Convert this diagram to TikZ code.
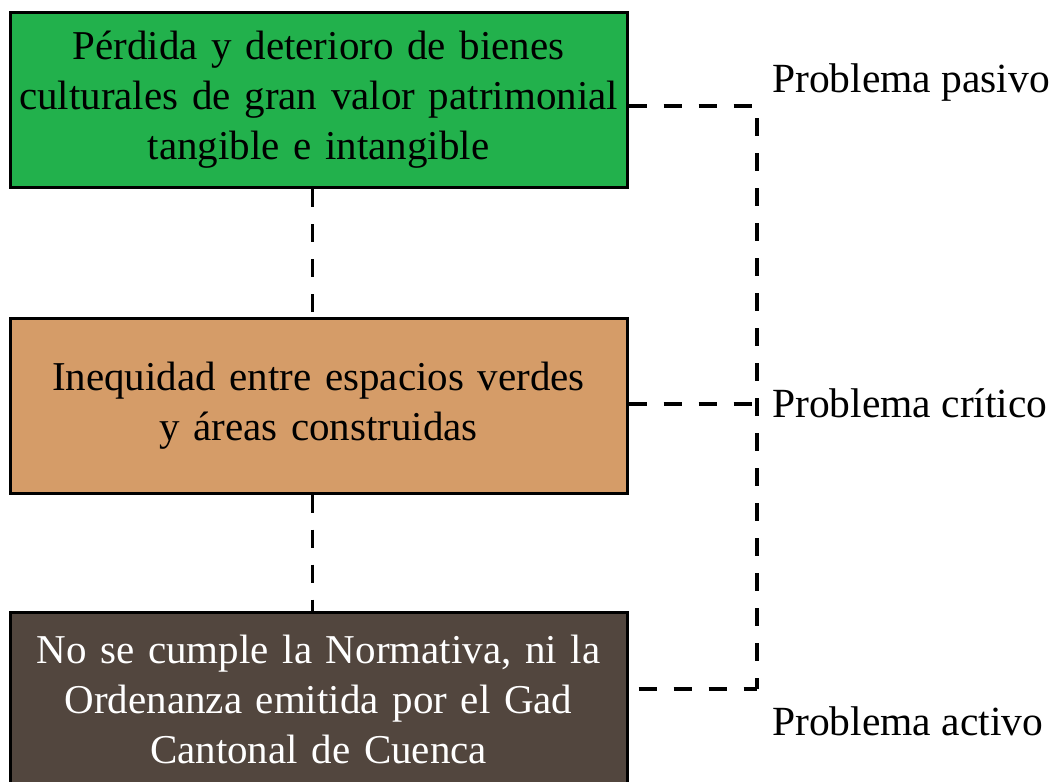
\documentclass[tikz,border=0pt]{standalone}
\usepackage{fontspec}
\setmainfont{Liberation Serif}
\definecolor{boxgreen}{RGB}{34,177,76}
\definecolor{boxorange}{RGB}{213,156,104}
\definecolor{boxbrown}{RGB}{82,70,62}
\begin{document}
\begin{tikzpicture}[x=1pt,y=-1pt,
  probbox/.style={draw=black,line width=3pt,rectangle,minimum width=617pt,text width=617pt,align=center,inner sep=0pt,font=\fontsize{41}{50}\selectfont},
  dashline/.style={draw=black,line width=3.3pt,dash pattern=on 18pt off 17pt},
  lbl/.style={anchor=base west,inner sep=0pt,font=\fontsize{41.5}{50}\selectfont}]
\useasboundingbox (0,0) rectangle (1061,782);
\clip (0,0) rectangle (1061,782);
\node[probbox,fill=boxgreen,minimum height=175pt] (g) at (318.5,100) {Pérdida y deterioro de bienes\\culturales de gran valor patrimonial\\tangible e intangible};
\node[probbox,fill=boxorange,minimum height=175pt] (o) at (318.5,405.5) {Inequidad entre espacios verdes\\y áreas construidas};
\node[probbox,fill=boxbrown,text=white,minimum height=175pt] (b) at (318.5,699.5) {No se cumple la Normativa, ni la\\Ordenanza emitida por el Gad\\Cantonal de Cuenca};
\coordinate (c1) at (757,106);
\coordinate (c2) at (757,404);
\coordinate (c3) at (757,689);
\draw[dashline] ([xshift=-6pt]g.south) -- ([xshift=-6pt]o.north);
\draw[dashline] ([xshift=-6pt]o.south) -- ([xshift=-6pt]b.north);
\draw[dashline] (g.east |- c1) -- (c1);
\draw[dashline,dash phase=23pt] (c1) -- (c3);
\draw[dashline,dash phase=25pt] (b.east |- c3) -- (c3);
\draw[dashline] (o.east |- c2) -- (c2);
\node[lbl] (l1) at (772,92) {Problema pasivo};
\node[lbl] (l2) at (772,417) {Problema crítico};
\node[lbl] (l3) at (772,735) {Problema activo};
\end{tikzpicture}
\end{document}
